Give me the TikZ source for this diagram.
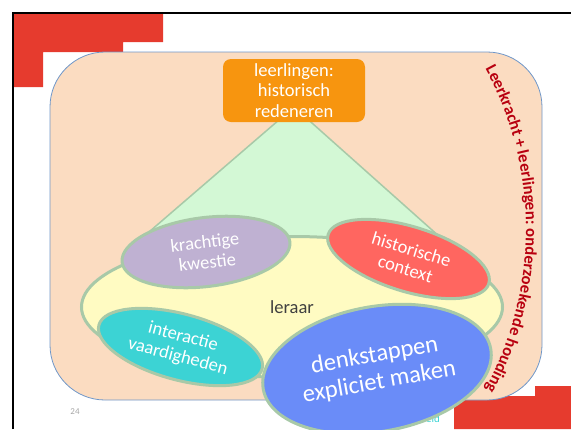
\documentclass[tikz,border=0pt]{standalone}
\usepackage{fontspec}
\setmainfont{Carlito}
\usepackage{tikz}
\usetikzlibrary{positioning, shapes.geometric, decorations.text}
\usepackage{xcolor}
\definecolor{SlideRed}{HTML}{E63B2E}
\definecolor{Peach}{HTML}{FBDCC1}
\definecolor{PeachEdge}{HTML}{6F97C9}
\definecolor{Goal}{HTML}{F7950F}
\definecolor{Mint}{HTML}{D3F8D5}
\definecolor{Sage}{HTML}{A8C9A8}
\definecolor{Cream}{HTML}{FFFBC2}
\definecolor{Lilac}{HTML}{BFB1D2}
\definecolor{Coral}{HTML}{FF6660}
\definecolor{Turquoise}{HTML}{3CD3D4}
\definecolor{Cornflower}{HTML}{6A8CF8}
\definecolor{DarkRed}{HTML}{B8000F}
\definecolor{Ink}{HTML}{404040}
\newcommand{\houdingfont}{\bfseries\fontsize{16.6}{16.6}\selectfont}
\tikzset{%
  slide_frame/.style={%
    draw=black,%
    line width=2pt,%
  },
  peach_area/.style={%
    fill=Peach,%
    draw=PeachEdge,%
    line width=0.8pt,%
    rounded corners=55pt,%
  },
  goal_block/.style={%
    rectangle,%
    rounded corners=8pt,%
    fill=Goal,%
    minimum width=142pt,%
    minimum height=63pt,%
    text=white,%
    font={\fontsize{18.5}{20.5}\selectfont},%
    align=center,%
  },
  goal_cone/.style={%
    fill=Mint,%
    draw=Sage,%
    line width=1.5pt,%
    line join=round,%
  },
  topic_ellipse/.style={%
    ellipse,%
    draw=Sage,%
    line width=3pt,%
    inner sep=0pt,%
    text=white,%
    align=center,%
    font={\fontsize{18.5}{20.5}\selectfont},%
  },
  footer_text/.style={%
    inner sep=0pt,%
    font={\fontsize{9}{9}\selectfont},%
  },
}

\begin{document}
\begin{tikzpicture}[x=1pt, y=-1pt]

  \useasboundingbox (0,0) rectangle (571,429);

  % corner decorations
  \fill [SlideRed]
    (13,13) -- (163,13) -- (163,42) -- (123,42) -- (123,52)
    -- (43,52) -- (43,87) -- (13,87) -- cycle;
  \fill [SlideRed]
    (454,396) -- (535,396) -- (535,386) -- (571,386)
    -- (571,429) -- (454,429) -- cycle;
  \draw [slide_frame] (13,429) -- (13,13) -- (571,13);

  % background area
  \draw [peach_area] (50,52) rectangle (542,400);

  \node [footer_text, text=black!35] (slide_number) at (75,412) {24};

  % cone from leraar to leerlingen
  \draw [goal_cone] (294,107) -- (142,238) -- (441,238) -- cycle;
  \node [goal_block] (goal) at (294,90.5)
    {leerlingen:\\historisch\\redeneren};

  \node [topic_ellipse, fill=Cream, text=Ink,
    minimum width=421pt, minimum height=141pt] (leraar) at (292,307) {leraar};

  \node [topic_ellipse, fill=Lilac, rotate=7,
    minimum width=169pt, minimum height=69pt] (kwestie) at (206,252)
    {krachtige\\kwestie};
  \node [topic_ellipse, fill=Coral, rotate=-17,
    minimum width=168pt, minimum height=65pt] (context) at (408.5,259)
    {historische\\context};
  \node [topic_ellipse, fill=Turquoise, rotate=-15,
    minimum width=169pt, minimum height=66pt] (interactie) at (180.5,347)
    {interactie\\vaardigheden};

  \node [footer_text, text=Turquoise, font={\fontsize{11}{11}\selectfont}]
    (footer) at (433,419) {eid};

  \node [topic_ellipse, fill=Cornflower, rotate=10,
    minimum width=231pt, minimum height=125pt,
    font={\fontsize{24.5}{27}\selectfont}] (denkstappen) at (377,369)
    {denkstappen\\expliciet maken};

  % houding along the right edge
  \path [decorate,
    decoration={text along path,
      text align=center,
      text color=DarkRed,
      text={|\houdingfont|Leerkracht + leerlingen: onderzoekende houding}}]
    (191,229) ++(-29:335) arc [start angle=-29, end angle=29, radius=335];

\end{tikzpicture}
\end{document}
